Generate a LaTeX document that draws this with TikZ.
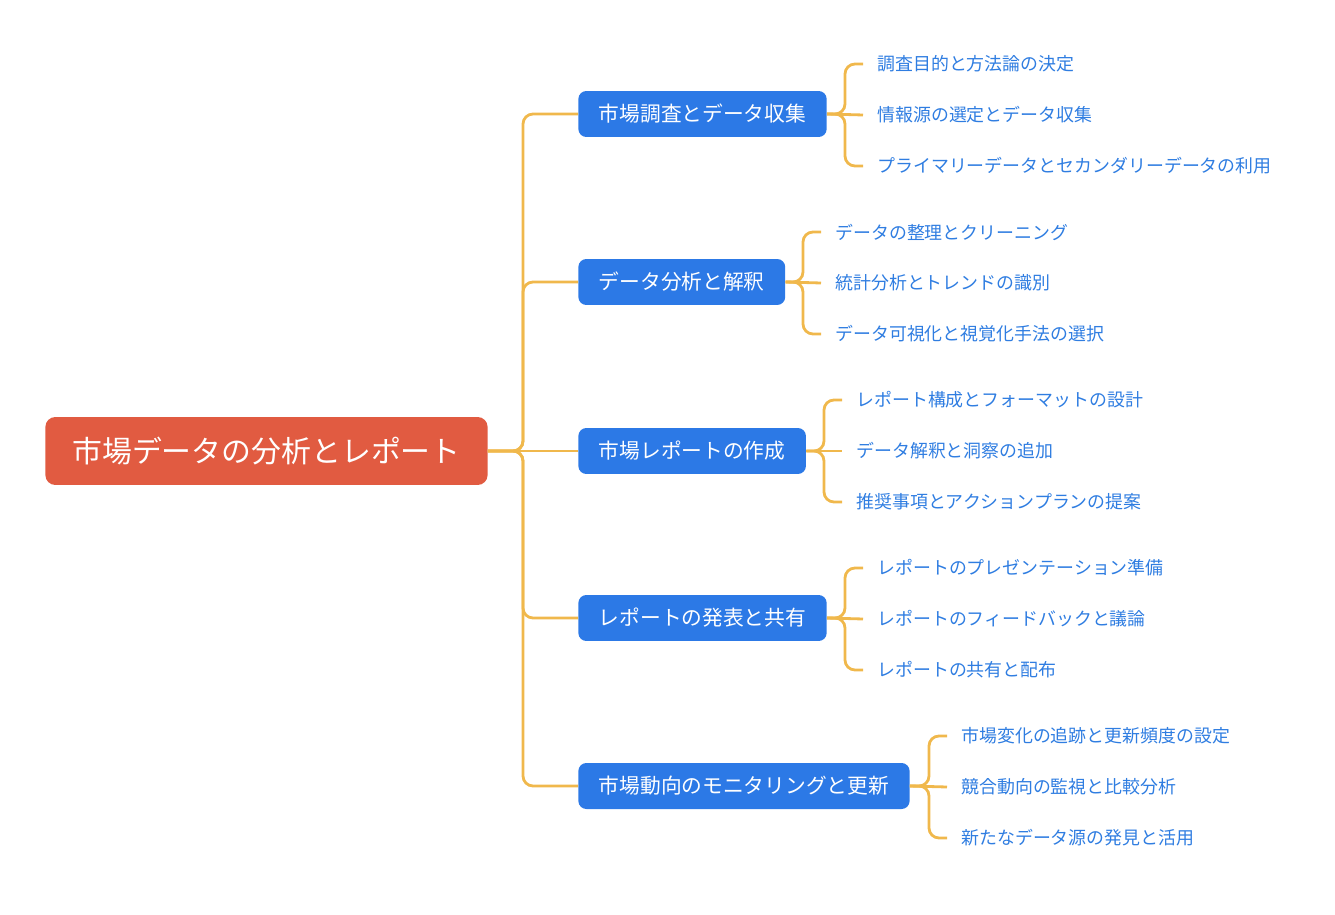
\documentclass[tikz,border=0pt]{standalone}
\usepackage{fontspec}
\setmainfont{Noto Sans CJK JP}
\usepackage{tikz}
\definecolor{rootred}{HTML}{E15B41}
\definecolor{topicblue}{HTML}{2C79E6}
\definecolor{leafblue}{HTML}{2F7DE1}
\definecolor{linegold}{HTML}{F0B84C}

\begin{document}
\begin{tikzpicture}[x=0.02cm, y=-0.02cm,
    rootbox/.style={rectangle, rounded corners=0.2cm, fill=rootred, text=white, font=\fontsize{17}{20}\selectfont, minimum height=1.36cm, inner xsep=0.54cm, anchor=west},
    topic/.style={rectangle, rounded corners=0.16cm, fill=topicblue, text=white, font=\fontsize{11.8}{14}\selectfont, minimum height=0.92cm, inner xsep=0.41cm, anchor=west},
    leaf/.style={text=leafblue, font=\fontsize{10.2}{12}\selectfont, inner xsep=0.28cm, inner ysep=0.1cm, anchor=west},
    link/.style={draw=linegold, line width=1.6pt, rounded corners=0.2cm}]
                \useasboundingbox (0,0) rectangle (1335,915);

                % Nodes
                \node[rootbox] (0) at (45,451) {市場データの分析とレポート};
                \node[topic] (1) at (578,114) {市場調査とデータ収集};
                \node[topic] (2) at (578,282) {データ分析と解釈};
                \node[topic] (3) at (578,451) {市場レポートの作成};
                \node[topic] (4) at (578,618) {レポートの発表と共有};
                \node[topic] (5) at (578,786) {市場動向のモニタリングと更新};

                \node[leaf] (11) at (863,64) {調査目的と方法論の決定};
                \node[leaf] (12) at (863,115) {情報源の選定とデータ収集};
                \node[leaf] (13) at (863,166) {プライマリーデータとセカンダリーデータの利用};
                \node[leaf] (21) at (821,232) {データの整理とクリーニング};
                \node[leaf] (22) at (821,283) {統計分析とトレンドの識別};
                \node[leaf] (23) at (821,334) {データ可視化と視覚化手法の選択};
                \node[leaf] (31) at (842,400) {レポート構成とフォーマットの設計};
                \node[leaf] (32) at (842,451) {データ解釈と洞察の追加};
                \node[leaf] (33) at (842,502) {推奨事項とアクションプランの提案};
                \node[leaf] (41) at (863,568) {レポートのプレゼンテーション準備};
                \node[leaf] (42) at (863,619) {レポートのフィードバックと議論};
                \node[leaf] (43) at (863,670) {レポートの共有と配布};
                \node[leaf] (51) at (947,736) {市場変化の追跡と更新頻度の設定};
                \node[leaf] (52) at (947,787) {競合動向の監視と比較分析};
                \node[leaf] (53) at (947,838) {新たなデータ源の発見と活用};

                % Edges
                \draw[link] (0.east) -- (523,451) |- (1.west);
                \draw[link] (0.east) -- (523,451) |- (2.west);
                \draw[link] (0.east) -- (3.west);
                \draw[link] (0.east) -- (523,451) |- (4.west);
                \draw[link] (0.east) -- (523,451) |- (5.west);

                \draw[link] (1.east) -- (845,114) |- (11.west);
                \draw[link] (1.east) -- (12.west);
                \draw[link] (1.east) -- (845,114) |- (13.west);
                \draw[link] (2.east) -- (803,282) |- (21.west);
                \draw[link] (2.east) -- (22.west);
                \draw[link] (2.east) -- (803,282) |- (23.west);
                \draw[link] (3.east) -- (824,451) |- (31.west);
                \draw[link] (3.east) -- (32.west);
                \draw[link] (3.east) -- (824,451) |- (33.west);
                \draw[link] (4.east) -- (845,618) |- (41.west);
                \draw[link] (4.east) -- (42.west);
                \draw[link] (4.east) -- (845,618) |- (43.west);
                \draw[link] (5.east) -- (929,786) |- (51.west);
                \draw[link] (5.east) -- (52.west);
                \draw[link] (5.east) -- (929,786) |- (53.west);
            \end{tikzpicture}
\end{document}
